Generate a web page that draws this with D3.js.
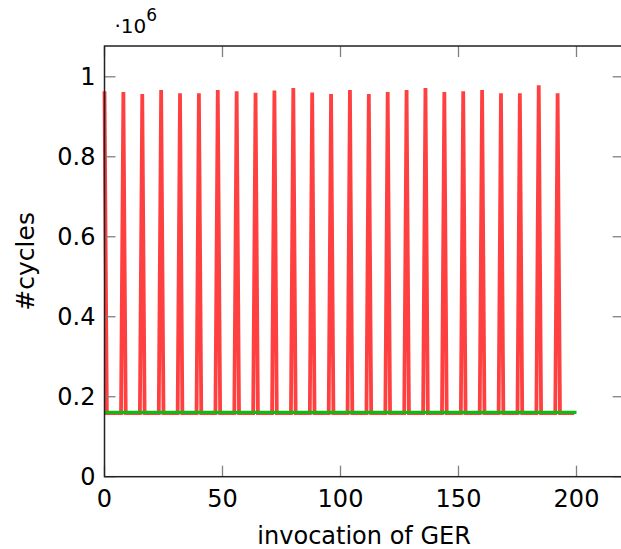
<!DOCTYPE html>
<html>
<head>
<meta charset="utf-8">
<script src="https://cdn.jsdelivr.net/npm/d3@7"></script>
<style>
  body { margin: 0; background: #fff; }
  text { font-family: "DejaVu Sans", sans-serif; fill: #000; }
</style>
</head>
<body>
<script>
// invocations where the red run spikes, and the spike heights (#cycles)
var spikeInvocation = [0, 8, 16, 24, 32, 40, 48, 56, 64, 72, 80, 88, 96,
  104, 112, 120, 128, 136, 144, 152, 160, 168, 176, 184, 192];
var spikeCycles = [964000, 962000, 957000, 967000, 959000, 959000, 967000,
  964000, 960000, 966000, 972000, 961000, 957000, 967000, 957000, 962000,
  967000, 972000, 962000, 964000, 967000, 959000, 959000, 979000, 959000];
var redBaseCycles = 159000;
var redLastInvocation = 199;

var greenInvocation = [0, 200];
var greenCycles = [161000, 161000];

var xTicks = [0, 50, 100, 150, 200];
var yTicks = [0, 200000, 400000, 600000, 800000, 1000000];

// red series: one point per invocation
var redData = [];
for (var i = 0; i <= redLastInvocation; i++) {
  var k = spikeInvocation.indexOf(i);
  redData.push({ x: i, y: k >= 0 ? spikeCycles[k] : redBaseCycles });
}
var greenData = greenInvocation.map((d, i) => ({ x: d, y: greenCycles[i] }));

var outerWidth = 621;
var outerHeight = 549;
var margin = { top: 46, right: -2.7, bottom: 72.3, left: 104.5 };
var width = outerWidth - margin.left - margin.right;
var height = outerHeight - margin.top - margin.bottom;
var tickLen = 11;

var svg = d3
  .select("body")
  .append("svg")
  .attr("width", outerWidth)
  .attr("height", outerHeight);

var xScale = d3.scaleLinear().domain([0, 220]).range([0, width]);
var yScale = d3.scaleLinear().domain([0, 1077000]).range([height, 0]);

var g = svg
  .append("g")
  .attr("transform", "translate(" + margin.left + "," + margin.top + ")");

// lines
var line = d3
  .line()
  .x((d) => xScale(d.x))
  .y((d) => yScale(d.y));

g.append("path")
  .datum(redData)
  .attr("fill", "none")
  .attr("stroke", "#ff4040")
  .attr("stroke-width", 3.8)
  .attr("stroke-linejoin", "miter")
  .attr("stroke-miterlimit", 10)
  .attr("d", line);

g.append("path")
  .datum(greenData)
  .attr("fill", "none")
  .attr("stroke", "#14b814")
  .attr("stroke-width", 3.2)
  .attr("d", line);

// ticks (inside, mirrored on top and right)
var tickG = g.append("g").attr("stroke", "#808080").attr("stroke-width", 1.3);
tickG.selectAll(".xb").data(xTicks).enter().append("line")
  .attr("x1", (d) => xScale(d)).attr("x2", (d) => xScale(d))
  .attr("y1", height).attr("y2", height - tickLen);
tickG.selectAll(".xt").data(xTicks).enter().append("line")
  .attr("x1", (d) => xScale(d)).attr("x2", (d) => xScale(d))
  .attr("y1", 0).attr("y2", tickLen);
tickG.selectAll(".yl").data(yTicks).enter().append("line")
  .attr("x1", 0).attr("x2", tickLen)
  .attr("y1", (d) => yScale(d)).attr("y2", (d) => yScale(d));
tickG.selectAll(".yr").data(yTicks).enter().append("line")
  .attr("x1", width).attr("x2", width - tickLen)
  .attr("y1", (d) => yScale(d)).attr("y2", (d) => yScale(d));

// frame
g.append("rect")
  .attr("width", width)
  .attr("height", height)
  .attr("fill", "none")
  .attr("stroke", "#222")
  .attr("stroke-width", 1.5);

// tick labels
g.selectAll(".xlab").data(xTicks).enter().append("text")
  .attr("x", (d) => xScale(d))
  .attr("y", height + 30)
  .attr("text-anchor", "middle")
  .attr("font-size", 24)
  .text((d) => d);

g.selectAll(".ylab").data(yTicks).enter().append("text")
  .attr("x", -9)
  .attr("y", (d) => yScale(d) + 8.5)
  .attr("text-anchor", "end")
  .attr("font-size", 24)
  .text((d) => d / 1e6);

// scale factor
var sc = g.append("text").attr("x", 10).attr("y", -13).attr("font-size", 20);
sc.append("tspan").text("\u00b710");
sc.append("tspan").attr("dy", -12).attr("font-size", 17).text("6");

// axis labels
g.append("text")
  .attr("x", width / 2)
  .attr("y", height + 67)
  .attr("text-anchor", "middle")
  .attr("font-size", 24)
  .text("invocation of GER");

g.append("text")
  .attr("transform", "translate(" + (-71) + "," + height / 2 + ") rotate(-90)")
  .attr("text-anchor", "middle")
  .attr("font-size", 25)
  .text("#cycles");
</script>
</body>
</html>
